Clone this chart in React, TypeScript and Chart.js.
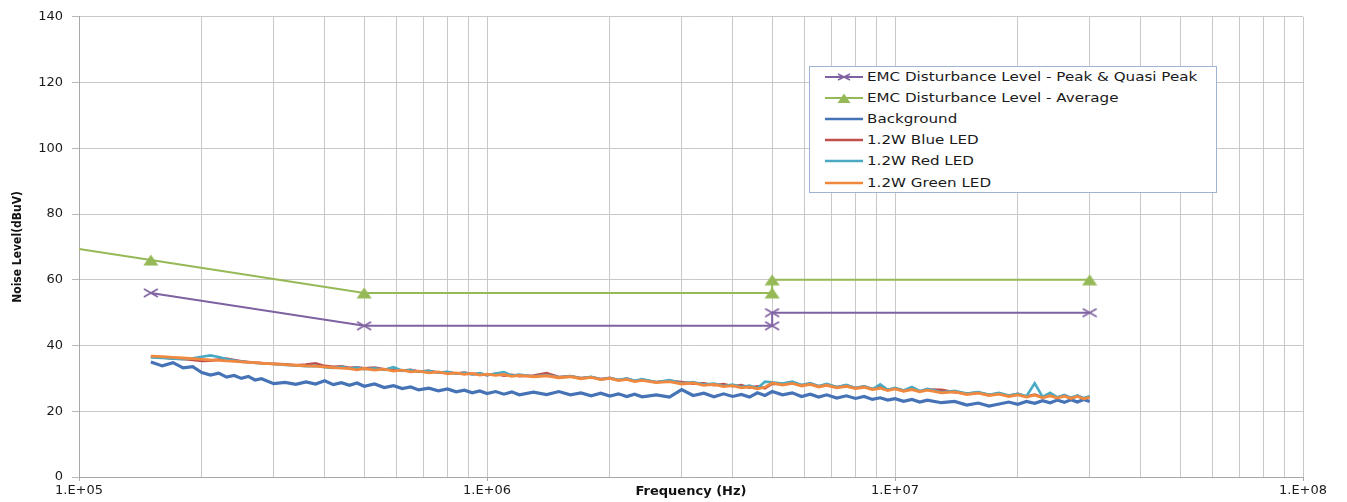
import React, { useEffect, useRef } from 'react';
import { Chart, registerables } from 'chart.js';

Chart.register(...registerables);

// Frequencies of the measured spectra, in MHz
const FREQ_MHZ = [
  0.15, 0.16, 0.17, 0.18, 0.19, 0.2, 0.21, 0.22, 0.23, 0.24,
  0.25, 0.26, 0.27, 0.28, 0.3, 0.32, 0.34, 0.36, 0.38, 0.4,
  0.42, 0.44, 0.46, 0.48, 0.5, 0.53, 0.56, 0.59, 0.62, 0.65,
  0.68, 0.72, 0.76, 0.8, 0.84, 0.88, 0.92, 0.96, 1.0, 1.05,
  1.1, 1.15, 1.2, 1.3, 1.4, 1.5, 1.6, 1.7, 1.8, 1.9,
  2.0, 2.1, 2.2, 2.3, 2.4, 2.6, 2.8, 3.0, 3.2, 3.4,
  3.6, 3.8, 4.0, 4.2, 4.4, 4.6, 4.8, 5.0, 5.3, 5.6,
  5.9, 6.2, 6.5, 6.8, 7.2, 7.6, 8.0, 8.4, 8.8, 9.2,
  9.6, 10, 10.5, 11, 11.5, 12, 13, 14, 15, 16,
  17, 18, 19, 20, 21, 22, 23, 24, 25, 26,
  27, 28, 29, 30,
];

const BACKGROUND = [
  35.0, 33.8, 34.8, 33.2, 33.6, 31.8, 31.0, 31.6, 30.4, 30.9,
  30.0, 30.6, 29.5, 29.9, 28.4, 28.8, 28.2, 28.9, 28.3, 29.3,
  28.1, 28.7, 27.9, 28.6, 27.6, 28.3, 27.2, 27.8, 26.9, 27.4,
  26.5, 27.0, 26.2, 26.8, 25.9, 26.4, 25.6, 26.2, 25.4, 26.0,
  25.2, 25.9, 25.0, 25.8, 25.1, 26.0, 25.0, 25.6, 24.7, 25.5,
  24.6, 25.3, 24.5, 25.2, 24.4, 25.0, 24.3, 26.6, 24.8, 25.5,
  24.4, 25.3, 24.5, 25.1, 24.3, 25.6, 24.8, 26.0, 25.0, 25.6,
  24.5, 25.2, 24.3, 25.0, 24.0, 24.7, 23.9, 24.5, 23.6, 24.1,
  23.4, 23.8, 23.0, 23.6, 22.8, 23.4, 22.6, 23.0, 21.9, 22.5,
  21.6, 22.2, 22.8, 22.1, 23.0, 22.4, 23.2, 22.6, 23.4, 22.7,
  23.5, 22.8, 23.6, 23.0,
];

const BLUE_LED = [
  36.6, 36.4, 36.1, 35.9, 35.6, 35.3, 35.4, 35.7, 36.0, 35.6,
  35.2, 35.0, 34.8, 34.7, 34.4, 34.3, 34.0, 34.2, 34.6, 33.8,
  33.5, 33.7, 33.2, 33.4, 33.1, 33.3, 32.8, 32.6, 32.4, 32.6,
  32.1, 32.3, 31.8, 31.9, 31.5, 31.8, 31.3, 31.4, 31.0, 31.4,
  30.8, 31.1, 30.7, 30.9, 31.6, 30.4, 30.7, 30.1, 30.4, 29.8,
  30.2, 29.5, 29.9, 29.2, 29.6, 28.9, 29.3, 28.9, 28.4, 28.5,
  27.9, 28.3, 27.6, 28.0, 27.2, 27.6, 27.0, 28.4, 28.3, 28.8,
  27.9, 28.4, 27.6, 28.2, 27.4, 27.9, 27.1, 27.6, 26.8, 27.3,
  26.5, 27.0, 26.3, 26.9, 26.1, 26.6, 26.5, 25.8, 25.4, 25.7,
  25.0, 25.4, 24.7, 25.3, 24.5, 25.1, 24.3, 25.0, 24.2, 24.8,
  24.0, 24.7, 23.9, 24.4,
];

const RED_LED = [
  36.4, 36.2, 36.0, 35.8, 36.1, 36.6, 37.0, 36.5, 35.9, 35.4,
  35.1, 34.9, 34.7, 34.6, 34.4, 34.1, 33.9, 33.7, 33.8, 33.4,
  33.2, 33.5, 33.0, 33.3, 32.8, 33.1, 32.6, 33.4, 32.3, 32.5,
  32.0, 32.3, 31.7, 32.0, 31.4, 31.7, 31.2, 31.6, 31.0, 31.5,
  31.9, 30.9, 31.2, 30.6, 31.0, 30.3, 30.6, 30.0, 30.5, 29.7,
  30.1, 29.5, 30.0, 29.3, 29.8, 28.8, 29.5, 28.5, 28.9, 28.1,
  28.4, 27.7, 28.1, 27.4, 27.8, 27.0, 29.0, 28.8, 28.4, 29.0,
  28.0, 28.6, 27.6, 28.3, 27.3, 28.0, 27.0, 27.6, 26.7, 28.2,
  26.5, 27.1, 26.3, 27.4, 26.1, 26.8, 25.8, 26.2, 25.4, 25.8,
  25.0, 25.6, 24.8, 25.3, 24.6, 28.5, 24.4, 25.6, 24.2, 25.0,
  24.1, 24.8, 24.0, 24.6,
];

const GREEN_LED = [
  36.8, 36.6, 36.4, 36.2, 36.0, 35.8, 35.6, 35.5, 35.3, 35.2,
  35.0, 34.9, 34.8, 34.6, 34.4, 34.2, 34.0, 33.8, 33.7, 33.5,
  33.3, 33.1, 33.0, 32.6, 33.0, 32.5, 32.8, 32.2, 32.5, 32.0,
  32.2, 31.7, 32.0, 31.4, 31.7, 31.2, 31.5, 31.0, 31.3, 30.9,
  31.2, 30.6, 30.9, 30.5, 30.8, 30.2, 30.5, 29.9, 30.3, 29.6,
  30.0, 29.3, 29.7, 29.0, 29.4, 28.7, 29.0, 28.3, 28.6, 27.9,
  28.2, 27.5, 27.8, 27.1, 27.4, 26.8, 27.3, 28.6, 28.0, 28.5,
  27.7, 28.2, 27.4, 27.9, 27.1, 27.6, 26.9, 27.3, 26.6, 27.0,
  26.3, 26.8, 26.1, 26.6, 25.9, 26.4, 25.6, 25.9, 25.1, 25.5,
  24.8, 25.2, 24.5, 25.0, 24.3, 24.9, 24.1, 24.7, 24.0, 24.6,
  23.9, 24.5, 23.8, 24.2,
];

// EMC limit lines (frequency in Hz, level in dBuV)
const PEAK_QP_FREQ = [1.5e5, 5e5, 5e6, 5e6, 3e7];
const PEAK_QP = [56, 46, 46, 50, 50];
const AVERAGE_FREQ = [1e5, 1.5e5, 5e5, 5e6, 5e6, 3e7];
const AVERAGE = [69.4, 66, 56, 56, 60, 60];
const AVERAGE_MARKER = [false, true, true, true, true, true];

const X_DECADES = [1e5, 1e6, 1e7, 1e8];
const X_TICK_LABELS = ['1.E+05', '1.E+06', '1.E+07', '1.E+08'];
const Y_TICKS = [0, 20, 40, 60, 80, 100, 120, 140];

const SERIES_NAMES = [
  'EMC Disturbance Level - Peak & Quasi Peak',
  'EMC Disturbance Level - Average',
  'Background',
  '1.2W Blue LED',
  '1.2W Red LED',
  '1.2W Green LED',
];
const COLORS = ['#7f62a1', '#96b957', '#4573b6', '#c0504d', '#4aaac4', '#f0893f'];

const FONT = "'DejaVu Sans', Verdana, sans-serif";

function makeCross(color: string) {
  const c = document.createElement('canvas');
  c.width = 16;
  c.height = 10;
  const g = c.getContext('2d')!;
  g.strokeStyle = color;
  g.lineWidth = 1.6;
  g.beginPath();
  g.moveTo(1, 1);
  g.lineTo(15, 9);
  g.moveTo(1, 9);
  g.lineTo(15, 1);
  g.stroke();
  return c;
}

function makeTriangle(color: string) {
  const c = document.createElement('canvas');
  c.width = 16;
  c.height = 12;
  const g = c.getContext('2d')!;
  g.fillStyle = color;
  g.beginPath();
  g.moveTo(0.5, 11.5);
  g.lineTo(15.5, 11.5);
  g.lineTo(8, 0.5);
  g.closePath();
  g.fill();
  return c;
}

function LegendSample({ index }: { index: number }) {
  const color = COLORS[index];
  return (
    <svg width={38} height={14} style={{ display: 'block' }}>
      <line x1={0} y1={7} x2={38} y2={7} stroke={color} strokeWidth={index < 2 ? 2 : 2.5} />
      {index === 0 && (
        <g stroke={color} strokeWidth={1.4}>
          <line x1={13} y1={4} x2={25} y2={10} />
          <line x1={13} y1={10} x2={25} y2={4} />
        </g>
      )}
      {index === 1 && <polygon points="12.5,12 25.5,12 19,2.5" fill={color} />}
    </svg>
  );
}

export default function App() {
  const canvasRef = useRef<HTMLCanvasElement | null>(null);

  useEffect(() => {
    const canvas = canvasRef.current;
    if (!canvas) return;
    const cross = makeCross(COLORS[0]);
    const tri = makeTriangle(COLORS[1]);

    const spectrum = (vals: number[]) => FREQ_MHZ.map((f, i) => ({ x: f * 1e6, y: vals[i] }));
    const isDecade = (v: number) => X_DECADES.some((d) => Math.abs(v - d) / d < 1e-9);

    const gridValues: number[] = [];
    for (let e = 5; e < 8; e++) {
      for (let m = 1; m < 10; m++) gridValues.push(m * Math.pow(10, e));
    }
    gridValues.push(1e8);

    const chart = new Chart(canvas, {
      type: 'scatter',
      data: {
        datasets: [
          {
            label: SERIES_NAMES[0],
            data: PEAK_QP_FREQ.map((x, i) => ({ x, y: PEAK_QP[i] })),
            showLine: true,
            borderColor: COLORS[0],
            backgroundColor: COLORS[0],
            borderWidth: 2,
            pointStyle: cross as any,
            pointRadius: 5,
            order: 0,
          },
          {
            label: SERIES_NAMES[1],
            data: AVERAGE_FREQ.map((x, i) => ({ x, y: AVERAGE[i] })),
            showLine: true,
            borderColor: COLORS[1],
            backgroundColor: COLORS[1],
            borderWidth: 2,
            pointStyle: tri as any,
            pointRadius: AVERAGE_MARKER.map((m) => (m ? 5 : 0)),
            order: 1,
          },
          {
            label: SERIES_NAMES[2],
            data: spectrum(BACKGROUND),
            showLine: true,
            borderColor: COLORS[2],
            borderWidth: 3.2,
            pointRadius: 0,
            order: 5,
          },
          {
            label: SERIES_NAMES[3],
            data: spectrum(BLUE_LED),
            showLine: true,
            borderColor: COLORS[3],
            borderWidth: 2.6,
            pointRadius: 0,
            order: 4,
          },
          {
            label: SERIES_NAMES[4],
            data: spectrum(RED_LED),
            showLine: true,
            borderColor: COLORS[4],
            borderWidth: 2.6,
            pointRadius: 0,
            order: 3,
          },
          {
            label: SERIES_NAMES[5],
            data: spectrum(GREEN_LED),
            showLine: true,
            borderColor: COLORS[5],
            borderWidth: 2.8,
            pointRadius: 0,
            order: 2,
          },
        ],
      },
      options: {
        animation: false,
        responsive: false,
        devicePixelRatio: 1,
        layout: { padding: { top: 15, right: 44, left: 0, bottom: 0 } },
        plugins: {
          legend: { display: false },
          tooltip: { enabled: false },
        },
        elements: { line: { tension: 0 } },
        scales: {
          x: {
            type: 'logarithmic',
            min: 1e5,
            max: 1e8,
            afterBuildTicks: (scale: any) => {
              scale.ticks = gridValues.map((v) => ({ value: v, major: isDecade(v) }));
            },
            afterFit: (scale: any) => {
              scale.height = 25;
            },
            grid: {
              color: '#c8c8c8',
              lineWidth: 1,
              tickLength: 4,
              tickColor: (ctx: any) =>
                ctx.tick && isDecade(ctx.tick.value) ? '#a8a8a8' : 'rgba(0,0,0,0)',
            },
            border: { color: '#a8a8a8' },
            ticks: {
              autoSkip: false,
              maxRotation: 0,
              minRotation: 0,
              padding: 2,
              color: '#1a1a1a',
              font: { family: FONT, size: 13 },
              callback: (v: any) => {
                const idx = X_DECADES.findIndex((d) => Math.abs(Number(v) - d) / d < 1e-9);
                return idx >= 0 ? X_TICK_LABELS[idx] : '';
              },
            },
            title: {
              display: true,
              text: 'Frequency (Hz)',
              color: '#111',
              font: { family: FONT, size: 13, weight: 'bold' },
              padding: { top: 0, bottom: 3 },
            },
          },
          y: {
            min: 0,
            max: 140,
            afterBuildTicks: (scale: any) => {
              scale.ticks = Y_TICKS.map((v) => ({ value: v }));
            },
            afterFit: (scale: any) => {
              scale.width = 79;
            },
            grid: { color: '#c8c8c8', lineWidth: 1, tickLength: 7, tickColor: '#b8b8b8' },
            border: { color: '#a8a8a8' },
            ticks: {
              padding: 9,
              color: '#1a1a1a',
              font: { family: FONT, size: 13 },
              callback: (v: any) => String(v),
            },
            title: {
              display: true,
              text: 'Noise Level(dBuV)',
              color: '#111',
              font: { family: "'Liberation Sans Narrow', 'DejaVu Sans Condensed', sans-serif", size: 12, weight: 'bold' },
              padding: { top: 11, bottom: 0 },
            },
          },
        },
      },
    } as any);

    return () => chart.destroy();
  }, []);

  const rowTop = 76.6;
  const rowStep = 21.2;

  return (
    <div style={{ position: 'absolute', left: 0, top: 0, width: 1347, height: 502, background: '#fff' }}>
      <canvas ref={canvasRef} width={1347} height={502} style={{ display: 'block' }} />
      <div
        style={{
          position: 'absolute',
          left: 809,
          top: 66,
          width: 406,
          height: 125,
          border: '1px solid #9fb4d4',
          background: '#fff',
        }}
      >
        {SERIES_NAMES.map((name, i) => (
          <div
            key={name}
            style={{
              position: 'absolute',
              left: 15,
              top: rowTop - 66 - 1 + i * rowStep - 7,
              height: 14,
              display: 'flex',
              alignItems: 'center',
              whiteSpace: 'nowrap',
            }}
          >
            <LegendSample index={i} />
            <span
              style={{
                marginLeft: 4,
                fontFamily: FONT,
                fontSize: 12.5,
                color: '#1a1a1a',
                display: 'inline-block',
                transform: 'scaleX(1.21)',
                transformOrigin: 'left center',
                lineHeight: '14px',
              }}
            >
              {name}
            </span>
          </div>
        ))}
      </div>
    </div>
  );
}
